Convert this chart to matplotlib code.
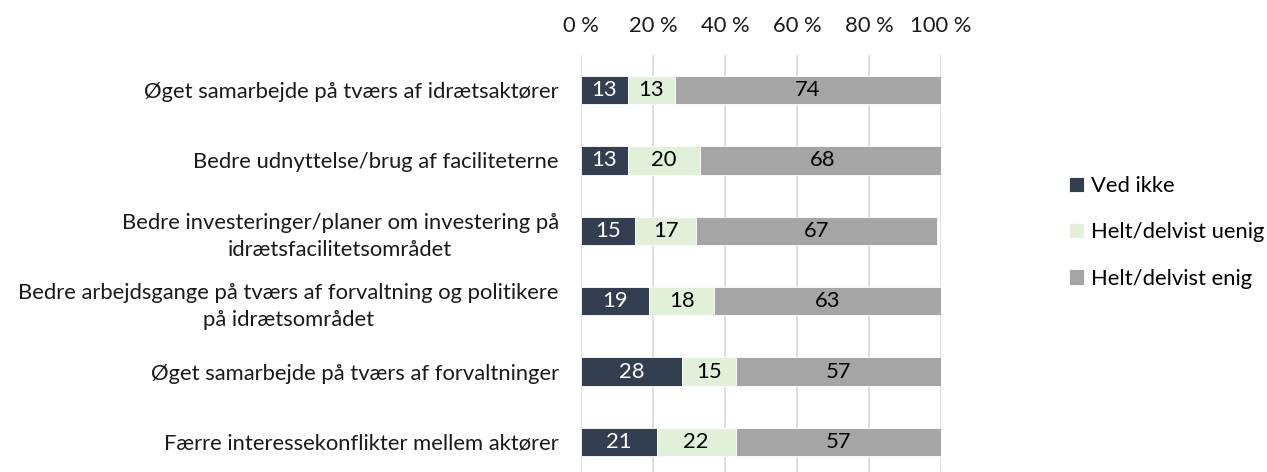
import matplotlib
matplotlib.use("Agg")
import matplotlib.pyplot as plt
import numpy as np

categories = [
    "Øget samarbejde på tværs af idrætsaktører",
    "Bedre udnyttelse/brug af faciliteterne",
    "Bedre investeringer/planer om investering på\nidrætsfacilitetsområdet",
    "Bedre arbejdsgange på tværs af forvaltning og politikere\npå idrætsområdet",
    "Øget samarbejde på tværs af forvaltninger",
    "Færre interessekonflikter mellem aktører",
]
series_names = ["Ved ikke", "Helt/delvist uenig", "Helt/delvist enig"]
ved_ikke = [13, 13, 15, 19, 28, 21]
uenig = [13, 20, 17, 18, 15, 22]
enig = [74, 68, 67, 63, 57, 57]
xticks = [0, 20, 40, 60, 80, 100]
xtick_labels = ["0 %", "20 %", "40 %", "60 %", "80 %", "100 %"]

colors = ["#333F50", "#E2F0D9", "#A5A5A5"]
text_colors = ["white", "black", "black"]

plt.rcParams['font.family'] = ['Lato', 'DejaVu Sans']
FS = 15.8

fig = plt.figure(figsize=(12.67, 4.72), dpi=100)
ax = fig.add_axes([581/1267, -5/472, 360/1267, 422/472])

y = np.arange(len(categories))
left = np.zeros(len(categories))
for vals, name, c, tc in zip([ved_ikke, uenig, enig], series_names, colors, text_colors):
    vals = np.array(vals, dtype=float)
    bars = ax.barh(y, vals, left=left, height=0.4, color=c, edgecolor="white",
                   linewidth=0.6, label=name, zorder=3)
    for b, v in zip(bars, vals):
        ax.text(b.get_x() + b.get_width() / 2, b.get_y() + b.get_height() / 2,
                f"{int(v)}", ha="center", va="center", color=tc, fontsize=FS, zorder=4)
    left += vals

ax.set_ylim(len(categories) - 0.5, -0.5)
ax.set_xlim(0, 100)
ax.set_yticks(y)
ax.set_yticklabels(categories, fontsize=FS, multialignment="center", linespacing=1.45)
ax.set_xticks(xticks)
ax.set_xticklabels(xtick_labels, fontsize=FS)
ax.xaxis.tick_top()
ax.tick_params(axis="both", length=0, colors="#1a1a1a")
ax.tick_params(axis="x", pad=14)
ax.tick_params(axis="y", pad=16)
ax.grid(axis="x", color="#D9D9D9", linewidth=1.2, zorder=0)
for s in ax.spines.values():
    s.set_visible(False)

leg = fig.legend(loc="upper left", bbox_to_anchor=(1058/1267, 1 - 165/472), frameon=False,
                 fontsize=FS, handlelength=0.7, handleheight=0.7, handletextpad=0.3,
                 labelspacing=1.2, borderpad=0)

fig.savefig("out.png", dpi=100)
